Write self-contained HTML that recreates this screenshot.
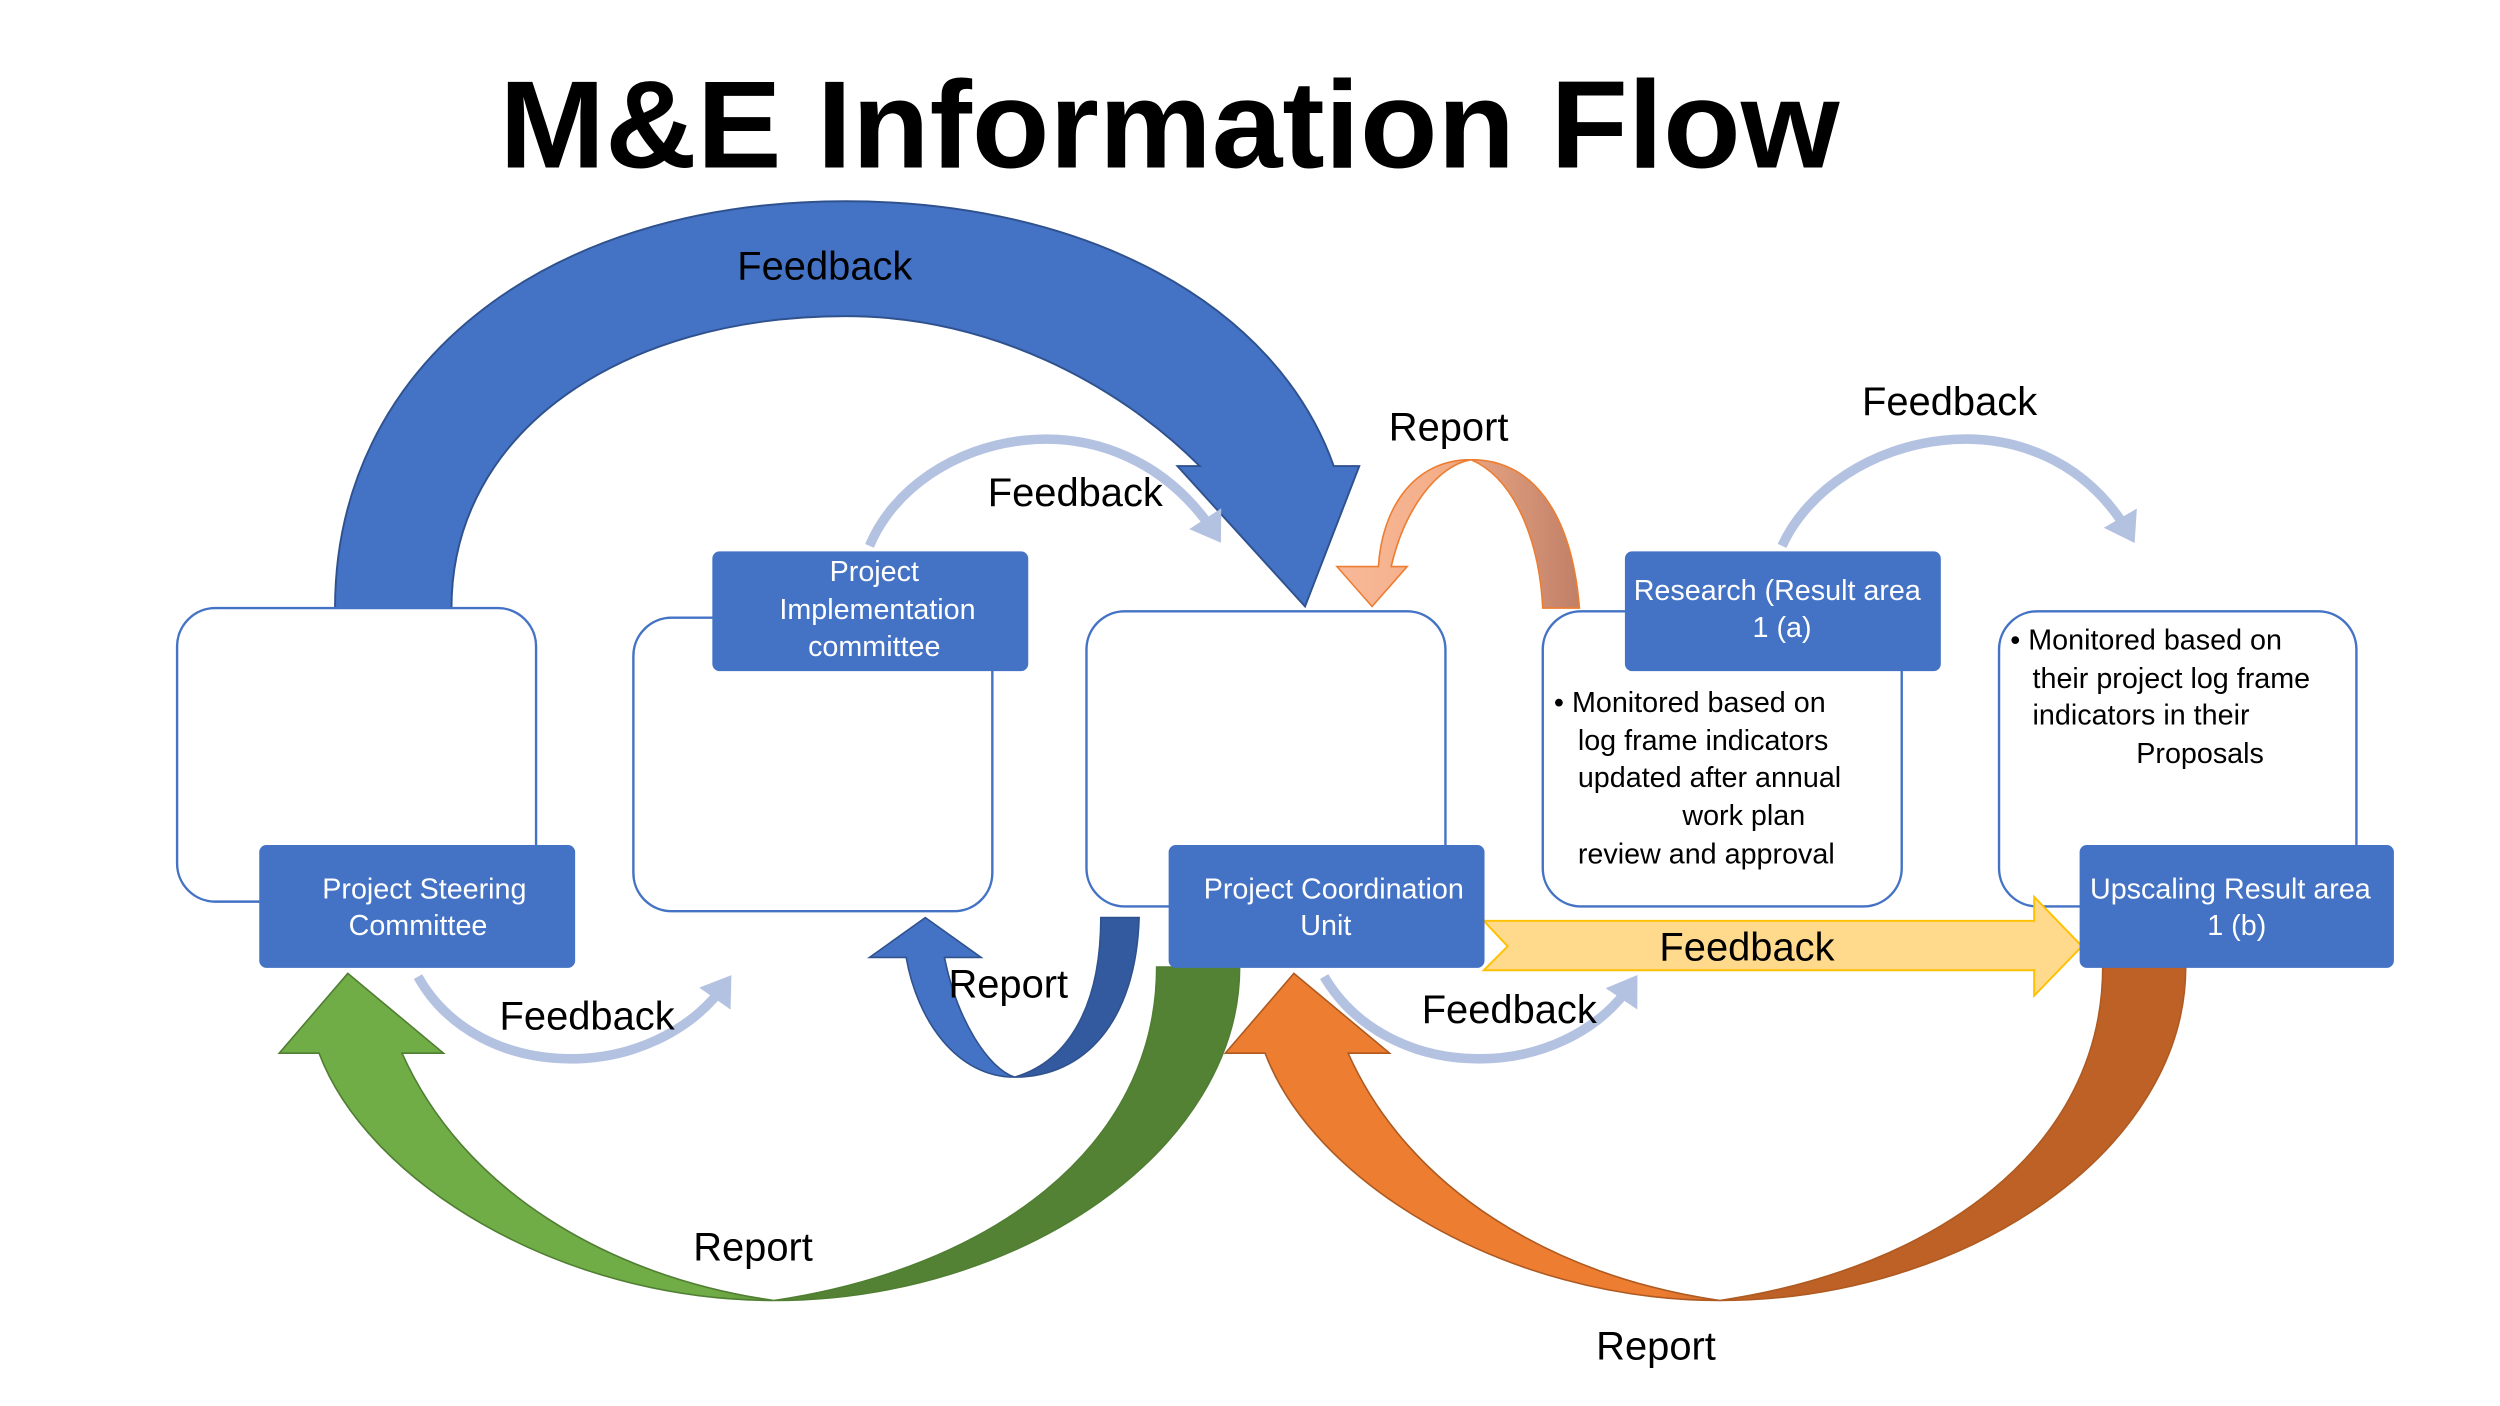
<!DOCTYPE html>
<html><head><meta charset="utf-8"><style>html,body{margin:0;padding:0;background:#fff}svg{display:block}</style></head>
<body>
<svg width="2500" height="1406" viewBox="0 0 1567 881" xmlns="http://www.w3.org/2000/svg" font-family="Liberation Sans, sans-serif">
<defs>
<linearGradient id="gG" x1="0" x2="1" y1="0" y2="0"><stop offset="0.45" stop-color="#70AD47"/><stop offset="0.55" stop-color="#548235"/></linearGradient>
<linearGradient id="gO" x1="0" x2="1" y1="0" y2="0"><stop offset="0.45" stop-color="#ED7D31"/><stop offset="0.55" stop-color="#BD6126"/></linearGradient>
<linearGradient id="gB" x1="0" x2="1" y1="0" y2="0"><stop offset="0.5" stop-color="#4472C4"/><stop offset="0.55" stop-color="#335A9E"/></linearGradient>
<linearGradient id="gS" x1="0" x2="1" y1="0" y2="0"><stop offset="0" stop-color="#F8B898"/><stop offset="0.4" stop-color="#F4AF8A"/><stop offset="1" stop-color="#C08068"/></linearGradient>
<clipPath id="c1"><rect x="1019" y="346" width="197" height="74"/></clipPath>
<clipPath id="c2"><rect x="1304" y="530" width="196" height="76"/></clipPath>
<marker id="ah" markerWidth="4" markerHeight="4" refX="2" refY="2" orient="auto" markerUnits="strokeWidth"><path d="M0,0 L3,2 L0,4 Z" fill="#B4C2E2"/></marker>
</defs>

<text x="733" y="105" font-size="78" font-weight="bold" text-anchor="middle" textLength="840" lengthAdjust="spacingAndGlyphs">M&amp;E  Information Flow</text>

<path d="M210,381 L283,381 C283,270 390,198 530,198 C620,198 700,240 752,292 L738,292 L818,380 L852,292 L836,292 C800,190 680,126 530,126 C340,126 210,230 210,381 Z" fill="#4472C4" stroke="#2F528F" stroke-width="1.2"/>

<g fill="#fff" stroke="#4472C4" stroke-width="1.5">
<rect x="111" y="381" width="225" height="184" rx="24"/>
<rect x="397" y="387" width="225" height="184" rx="24"/>
<rect x="681" y="383" width="225" height="185" rx="24"/>
<rect x="967" y="383" width="225" height="185" rx="24"/>
<rect x="1253" y="383" width="224" height="185" rx="24"/>
</g>

<path d="M967,381 L990,381 C985,320 960,288 922,288 C885,288 866,320 864,355 L838,355 L860,380 L882,355 L872,355 C880,320 900,292 922,288 C950,300 965,340 967,381 Z" fill="url(#gS)" stroke="#ED7D31" stroke-width="1"/>

<g fill="none" stroke="#B4C2E2" stroke-width="6" marker-end="url(#ah)">
<path d="M545,342 C575,270 700,240 762,335"/>
<path d="M1117,342 C1150,270 1280,240 1335,335"/>
<path d="M262,612 C300,680 410,680 455,616"/>
<path d="M830,612 C870,680 980,680 1023,616"/>
</g>

<path d="M690,575 L714,575 C712,640 680,675 636,675 C600,675 575,640 568,600 L545,600 L580,575 L615,600 L592,600 C600,640 620,670 636,675 C670,665 690,630 690,575 Z" fill="url(#gB)" stroke="#2F528F" stroke-width="1"/>

<path d="M725,606 L777,606 C777,720 640,815 485,815 C350,815 230,740 200,660 L175,660 L218,610 L278,660 L252,660 C290,745 380,800 485,815 C620,795 725,720 725,606 Z" fill="url(#gG)" stroke="#507E32" stroke-width="1"/>

<path d="M1318,606 L1370,606 C1370,720 1233,815 1078,815 C943,815 823,740 793,660 L768,660 L811,610 L871,660 L845,660 C883,745 973,800 1078,815 C1213,795 1318,720 1318,606 Z" fill="url(#gO)" stroke="#AE5A21" stroke-width="1"/>

<path d="M930,577 L1275,577 L1275,562 L1305,593 L1275,624 L1275,608 L930,608 L945,593 Z" fill="#FFD98C" stroke="#FFC000" stroke-width="1.2"/>

<g fill="#4472C4" stroke="#4472C4">
<rect x="163" y="530" width="197" height="76" rx="4"/>
<rect x="447" y="346" width="197" height="74" rx="4"/>
<rect x="733" y="530" width="197" height="76" rx="4"/>
<rect x="1019" y="346" width="197" height="74" rx="4"/>
<rect x="1304" y="530" width="196" height="76" rx="4"/>
</g>
<g fill="#fff" font-size="18" text-anchor="middle">
<text x="266" y="563">Project Steering</text><text x="262" y="586">Committee</text>
<text x="548" y="364">Project</text><text x="550" y="388">Implementation</text><text x="548" y="411">committee</text>
<text x="836" y="563">Project Coordination</text><text x="831" y="586">Unit</text>
<g clip-path="url(#c1)"><text x="1024" y="376" text-anchor="start">Research (Result area</text><text x="1117" y="399">1 (a)</text></g>
<g clip-path="url(#c2)"><text x="1310" y="563" text-anchor="start">Upscaling Result area</text><text x="1402" y="586">1 (b)</text></g>
</g>

<g font-size="18" fill="#000">
<text x="974" y="446">• Monitored based on</text>
<text x="989" y="470">log frame indicators</text>
<text x="989" y="493">updated after annual</text>
<text x="1093" y="517" text-anchor="middle">work plan</text>
<text x="989" y="541">review and approval</text>
<text x="1260" y="407">• Monitored based on</text>
<text x="1274" y="431">their project log frame</text>
<text x="1274" y="454">indicators in their</text>
<text x="1379" y="478" text-anchor="middle">Proposals</text>
</g>

<g font-size="25" fill="#000" text-anchor="middle">
<text x="517" y="175">Feedback</text>
<text x="674" y="317">Feedback</text>
<text x="908" y="276">Report</text>
<text x="1222" y="260">Feedback</text>
<text x="368" y="645">Feedback</text>
<text x="632" y="625">Report</text>
<text x="946" y="641">Feedback</text>
<text x="1095" y="602">Feedback</text>
<text x="472" y="790">Report</text>
<text x="1038" y="852">Report</text>
</g>
</svg>
</body></html>
